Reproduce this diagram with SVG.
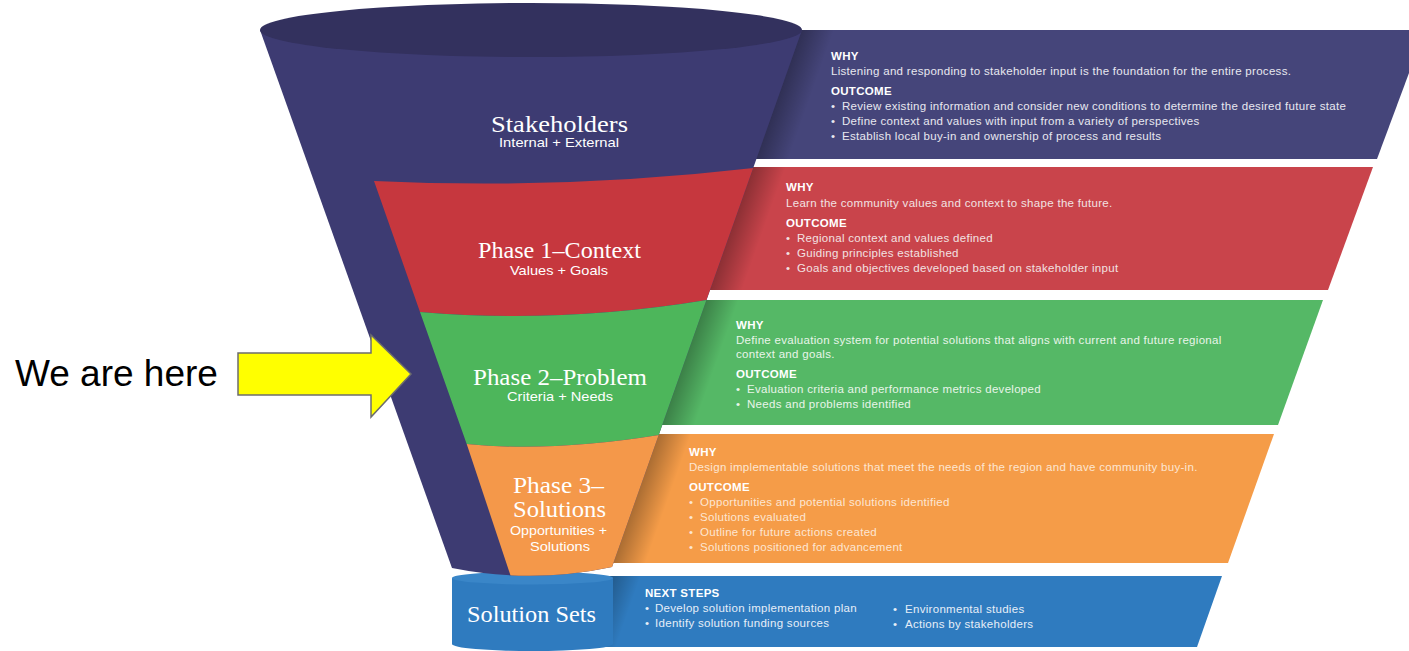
<svg xmlns="http://www.w3.org/2000/svg" width="1409" height="651" viewBox="0 0 1409 651">
<defs>
<style>
.hd{font-family:"Liberation Sans",Arial,sans-serif;font-size:11.5px;letter-spacing:0.3px;font-weight:bold;fill:#ffffff}
.tx{font-family:"Liberation Sans",Arial,sans-serif;font-size:11.5px;letter-spacing:0.3px}
.ttl{font-family:"Liberation Serif","Times New Roman",serif;font-size:24px;fill:#ffffff}
.sub{font-family:"Liberation Sans",Arial,sans-serif;font-size:13.5px;fill:#ffffff}
.p-pur{fill:#e8e8f0}.p-red{fill:#f2e2e2}.p-grn{fill:#e8f5e9}.p-org{fill:#fde6d2}.p-blu{fill:#e6eef8}
</style>
<clipPath id="funnelClip"><path d="M260,30 L452,568 Q532,584 612,567 L802,30 Z"/></clipPath>
<clipPath id="panelClip">
<polygon points="700,30 1425,30 1377,159 700,159"/>
<polygon points="650,167 1373,167 1328,290 650,290"/>
<polygon points="600,300 1323,300 1278,425 600,425"/>
<polygon points="560,434 1274,434 1228,563 560,563"/>
<polygon points="560,576 1222,576 1197,647 560,647"/>
</clipPath>
<linearGradient id="shade" gradientUnits="userSpaceOnUse" x1="813" y1="0" x2="845" y2="0" gradientTransform="skewX(-19.5)">
<stop offset="0" stop-color="#000" stop-opacity="0.3"/>
<stop offset="1" stop-color="#000" stop-opacity="0"/>
</linearGradient>
</defs>
<rect width="1409" height="651" fill="#ffffff"/>

<g id="panels">
<g id="panel-stakeholders">
<polygon points="700,30 1425,30 1377,159 700,159" fill="#45457a"/>
</g>
<g id="panel-phase1">
<polygon points="650,167 1373,167 1328,290 650,290" fill="#c9444b"/>
</g>
<g id="panel-phase2">
<polygon points="600,300 1323,300 1278,425 600,425" fill="#55b866"/>
</g>
<g id="panel-phase3">
<polygon points="560,434 1274,434 1228,563 560,563" fill="#f59c48"/>
</g>
<g id="panel-solutions">
<polygon points="560,576 1222,576 1197,647 560,647" fill="#2f7bbf"/>
</g>
<rect x="560" y="20" width="400" height="640" fill="url(#shade)" clip-path="url(#panelClip)"/>
</g>

<g id="panel-texts">
<g id="text-stakeholders" class="p-pur">
<text class="hd" x="831" y="60">WHY</text>
<text class="tx" x="831" y="75">Listening and responding to stakeholder input is the foundation for the entire process.</text>
<text class="hd" x="831" y="95">OUTCOME</text>
<text class="tx" x="831" y="110">•<tspan x="842">Review existing information and consider new conditions to determine the desired future state</tspan></text>
<text class="tx" x="831" y="125">•<tspan x="842">Define context and values with input from a variety of perspectives</tspan></text>
<text class="tx" x="831" y="140">•<tspan x="842">Establish local buy-in and ownership of process and results</tspan></text>
</g>
<g id="text-phase1" class="p-red">
<text class="hd" x="786" y="191">WHY</text>
<text class="tx" x="786" y="207">Learn the community values and context to shape the future.</text>
<text class="hd" x="786" y="227">OUTCOME</text>
<text class="tx" x="786" y="242">•<tspan x="797">Regional context and values defined</tspan></text>
<text class="tx" x="786" y="257">•<tspan x="797">Guiding principles established</tspan></text>
<text class="tx" x="786" y="272">•<tspan x="797">Goals and objectives developed based on stakeholder input</tspan></text>
</g>
<g id="text-phase2" class="p-grn">
<text class="hd" x="736" y="329">WHY</text>
<text class="tx" x="736" y="344">Define evaluation system for potential solutions that aligns with current and future regional</text>
<text class="tx" x="736" y="358">context and goals.</text>
<text class="hd" x="736" y="378">OUTCOME</text>
<text class="tx" x="736" y="393">•<tspan x="747">Evaluation criteria and performance metrics developed</tspan></text>
<text class="tx" x="736" y="408">•<tspan x="747">Needs and problems identified</tspan></text>
</g>
<g id="text-phase3" class="p-org">
<text class="hd" x="689" y="456">WHY</text>
<text class="tx" x="689" y="471">Design implementable solutions that meet the needs of the region and have community buy-in.</text>
<text class="hd" x="689" y="491">OUTCOME</text>
<text class="tx" x="689" y="506">•<tspan x="700">Opportunities and potential solutions identified</tspan></text>
<text class="tx" x="689" y="521">•<tspan x="700">Solutions evaluated</tspan></text>
<text class="tx" x="689" y="536">•<tspan x="700">Outline for future actions created</tspan></text>
<text class="tx" x="689" y="551">•<tspan x="700">Solutions positioned for advancement</tspan></text>
</g>
<g id="text-solutions" class="p-blu">
<text class="hd" x="645" y="597">NEXT STEPS</text>
<text class="tx" x="645" y="612">•<tspan x="655">Develop solution implementation plan</tspan></text>
<text class="tx" x="645" y="627">•<tspan x="655">Identify solution funding sources</tspan></text>
<text class="tx" x="893" y="613">•<tspan x="905">Environmental studies</tspan></text>
<text class="tx" x="893" y="628">•<tspan x="905">Actions by stakeholders</tspan></text>
</g>
</g>

<g id="solution-sets">
<path d="M452,578 L452,644 A80.5,7 0 0 0 613,644 L613,578 Z" fill="#2f7bbf"/>
<ellipse cx="532.5" cy="578" rx="80.5" ry="6.5" fill="#3a86c8"/>
<text class="ttl" x="467" y="622" textLength="129" lengthAdjust="spacingAndGlyphs">Solution Sets</text>
</g>

<g id="funnel">
<path id="funnel-body" d="M260,30 L452,568 Q532,584 612,567 L802,30 Z" fill="#3d3b72"/>
<g clip-path="url(#funnelClip)">
<path id="band-red" d="M374,181 Q563,190 753.5,168 L830,168 L830,300 L706.8,300 Q560,324 420,312 Z" fill="#c6373e"/>
<path id="band-green" d="M420,312 Q560,324 706.8,300 L830,300 L830,435 L659,435 Q550,452.5 466.7,444 Z" fill="#4db65b"/>
<path id="band-orange" d="M466.7,444 Q550,452.5 659,435 L830,435 L830,610 L522,610 Z" fill="#f4984a"/>
</g>
<ellipse id="funnel-top" cx="531" cy="30" rx="271" ry="27" fill="#33315e"/>
</g>

<g id="node-stakeholders">
<text class="ttl" x="491" y="132" textLength="137" lengthAdjust="spacingAndGlyphs">Stakeholders</text>
<text class="sub" x="499" y="147" textLength="120" lengthAdjust="spacingAndGlyphs">Internal + External</text>
</g>
<g id="node-phase1">
<text class="ttl" x="478" y="258" textLength="163" lengthAdjust="spacingAndGlyphs">Phase 1–Context</text>
<text class="sub" x="510" y="275" textLength="98" lengthAdjust="spacingAndGlyphs">Values + Goals</text>
</g>
<g id="node-phase2">
<text class="ttl" x="473" y="385" textLength="174" lengthAdjust="spacingAndGlyphs">Phase 2–Problem</text>
<text class="sub" x="507" y="401" textLength="106" lengthAdjust="spacingAndGlyphs">Criteria + Needs</text>
</g>
<g id="node-phase3">
<text class="ttl" x="513" y="493" textLength="91" lengthAdjust="spacingAndGlyphs">Phase 3–</text>
<text class="ttl" x="513" y="517" textLength="93" lengthAdjust="spacingAndGlyphs">Solutions</text>
<text class="sub" x="510" y="535" textLength="97" lengthAdjust="spacingAndGlyphs">Opportunities +</text>
<text class="sub" x="530" y="551" textLength="60" lengthAdjust="spacingAndGlyphs">Solutions</text>
</g>

<g id="node-here">
<text x="15" y="386" font-family="'Liberation Sans',Arial,sans-serif" font-size="37" fill="#000000">We are here</text>
</g>

<g id="connectors">
<polygon points="238,353 371,353 371,335 411,374 371,417 371,395 238,395" fill="#ffff00" stroke="#6d6d6d" stroke-width="1.5" stroke-linejoin="miter"/>
</g>
</svg>
